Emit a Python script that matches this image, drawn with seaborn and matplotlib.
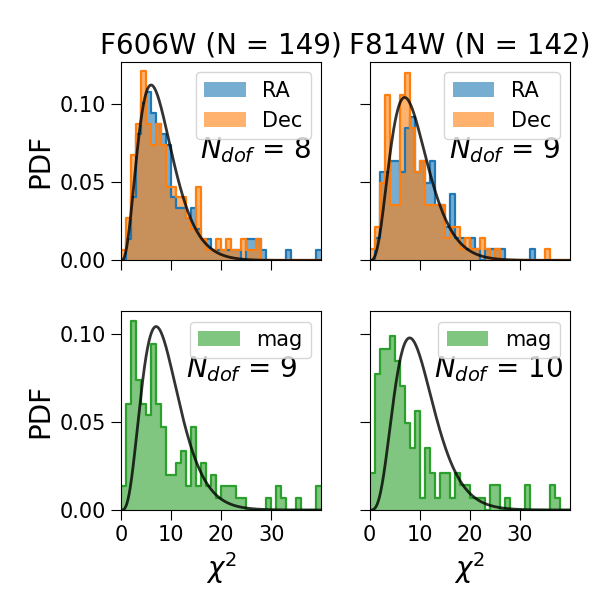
import math
import numpy as np
import pandas as pd
import matplotlib
matplotlib.use("Agg")
import matplotlib.pyplot as plt
import seaborn as sns

# conteos por bin (ancho 1, de 0 a 40)
bin_edges = list(range(0, 41))

f606w_ra = [0, 2, 6, 12, 15, 16, 14, 13, 12, 11, 6, 5, 5, 4, 5, 3, 2, 2, 1, 1,
            1, 1, 1, 1, 0, 2, 2, 2, 1, 0, 0, 0, 0, 1, 0, 0, 0, 0, 0, 1]
f606w_dec = [1, 4, 10, 13, 18, 13, 11, 13, 11, 7, 7, 6, 6, 4, 3, 7, 2, 1, 1, 2,
             1, 2, 1, 1, 2, 1, 1, 2, 0, 0, 0, 0, 0, 0, 0, 0, 0, 0, 0, 0]
f814w_ra = [0, 2, 8, 8, 9, 9, 8, 12, 13, 8, 9, 7, 9, 5, 5, 3, 6, 2, 2, 1,
            2, 1, 0, 1, 1, 1, 1, 0, 0, 0, 0, 0, 1, 0, 0, 0, 0, 0, 0, 0]
f814w_dec = [1, 3, 7, 15, 5, 5, 15, 17, 12, 8, 9, 5, 5, 5, 5, 2, 3, 3, 1, 2,
             1, 1, 2, 1, 0, 1, 0, 0, 0, 0, 0, 0, 0, 0, 0, 1, 0, 0, 0, 0]
f606w_mag = [2, 9, 16, 11, 9, 8, 14, 9, 7, 3, 3, 4, 5, 2, 7, 2, 4, 2, 3, 1,
             2, 2, 2, 1, 1, 0, 0, 0, 0, 1, 0, 2, 1, 0, 0, 1, 0, 0, 0, 2]
f814w_mag = [3, 11, 13, 13, 14, 12, 10, 7, 5, 8, 1, 5, 3, 1, 3, 3, 1, 3, 2, 2,
             1, 1, 1, 0, 2, 2, 0, 1, 0, 0, 0, 2, 0, 0, 0, 0, 2, 1, 0, 0]

filtros = ["F606W", "F814W"]
n_estrellas = [149, 142]
ndof_pos = [8, 9]
ndof_mag = [9, 10]

plt.rcParams["font.family"] = ["DejaVu Sans"]


def chi2_pdf(x, k):
    return x ** (k / 2 - 1) * np.exp(-x / 2) / (2 ** (k / 2) * math.gamma(k / 2))


def hist_paso(ax, conteos, n, color, label=None):
    df = pd.DataFrame({"x": np.array(bin_edges[:-1]) + 0.5,
                       "w": np.array(conteos, dtype=float) / n})
    # relleno con transparencia
    sns.histplot(data=df, x="x", weights="w", bins=bin_edges, stat="count",
                 element="step", fill=True, alpha=0.6, linewidth=0,
                 color=color, label=label, ax=ax)
    # contorno
    sns.histplot(data=df, x="x", weights="w", bins=bin_edges, stat="count",
                 element="step", fill=False, linewidth=1.6, color=color, ax=ax)


fig, axes = plt.subplots(2, 2, figsize=(6, 6), dpi=100, sharex=True, sharey="row")
fig.subplots_adjust(left=0.2017, right=0.95, bottom=0.15, top=0.897,
                    wspace=0.24, hspace=0.256)

xs = np.linspace(0, 40, 400)

pos_data = [(f606w_ra, f606w_dec), (f814w_ra, f814w_dec)]
mag_data = [f606w_mag, f814w_mag]
txt_pos_top = [0.95, 0.95]
txt_pos_bot = [0.88, 0.965]

for j in range(2):
    ax = axes[0, j]
    ra, dec = pos_data[j]
    hist_paso(ax, ra, n_estrellas[j], "C0", "RA")
    hist_paso(ax, dec, n_estrellas[j], "C1", "Dec")
    ax.plot(xs, chi2_pdf(xs, ndof_pos[j]), color="k", alpha=0.8, lw=2)
    ax.legend(loc="upper right", fontsize=15)
    ax.text(txt_pos_top[j], 0.558, r"$N_{dof}$ = %d" % ndof_pos[j],
            transform=ax.transAxes, ha="right", va="center", fontsize=20)
    ax.set_title("%s (N = %d)" % (filtros[j], n_estrellas[j]), fontsize=20)

    ax = axes[1, j]
    hist_paso(ax, mag_data[j], n_estrellas[j], "C2", "mag")
    ax.plot(xs, chi2_pdf(xs, ndof_mag[j]), color="k", alpha=0.8, lw=2)
    ax.legend(loc="upper right", fontsize=15)
    ax.text(txt_pos_bot[j], 0.707, r"$N_{dof}$ = %d" % ndof_mag[j],
            transform=ax.transAxes, ha="right", va="center", fontsize=20)

for ax in axes.flat:
    ax.set_xlim(0, 40)
    ax.set_xticks([0, 10, 20, 30])
    ax.set_yticks([0.0, 0.05, 0.10])
    ax.tick_params(labelsize=15, length=7)
    ax.set_xlabel("")
    ax.set_ylabel("")

for ax in axes.flat:
    ax.set_ylim(bottom=0)

for i in range(2):
    axes[i, 0].set_ylabel("PDF", fontsize=20)
    axes[1, i].set_xlabel(r"$\chi^2$", fontsize=20)

plt.savefig("out.png", dpi=100)
